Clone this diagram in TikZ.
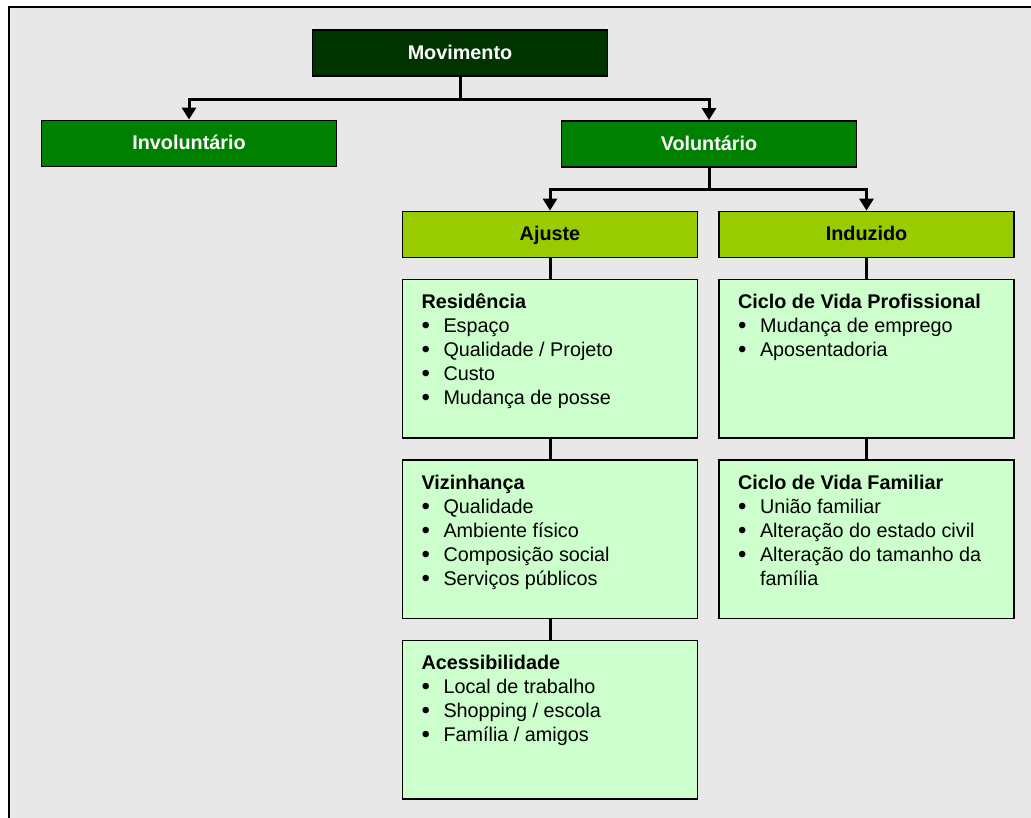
\documentclass[tikz,border=0pt]{standalone}
\usepackage{fontspec}
\setmainfont{Liberation Sans}
\usetikzlibrary{positioning}
\usetikzlibrary{arrows.meta}

\definecolor{darkgreen}{HTML}{003300}
\definecolor{midgreen}{HTML}{008000}
\definecolor{limegreen}{HTML}{99CC00}
\definecolor{palegreen}{HTML}{CCFFCC}
\definecolor{framegray}{HTML}{E8E8E8}

% one bullet line of a list box
\newcommand{\bitem}[1]{\\\makebox[22pt][l]{\smash{\raisebox{-1pt}{\fontsize{24}{24}\selectfont\textbullet}}}#1}
% heading and bullets, aligned at the top of the box
\newcommand{\boxlist}[2]{\parbox[c][158.5pt][t]{257pt}{\rule{0pt}{29pt}\textbf{#1}#2}}

\begin{document}
\begin{tikzpicture}[x=1pt,y=-1pt,node distance=20.2pt,
	font=\fontsize{19.8}{24}\selectfont,
	head node/.style={draw,line width=1.8pt,minimum width=295pt,minimum height=46pt,
		text height=17pt,text depth=4pt,font=\fontsize{19.8}{24}\selectfont\bfseries},
	list node/.style={draw,line width=1.8pt,fill=palegreen,inner xsep=19pt,inner ysep=0pt},
	arr/.style={line width=3pt,-{Triangle[width=14pt,length=12pt]}}]

	\useasboundingbox (0,0) rectangle (1031,818);
	\fill[white] (0,0) rectangle (1031,818);
	\fill[framegray] (9,7) rectangle (1031,818);
	\draw[line width=2pt] (9,818) -- (9,7) -- (1031,7);

	\node[head node,fill=darkgreen,text=white] (mov) at (460,53) {Movimento};
	\node[head node,fill=midgreen,text=white] (inv) at (189,143.5) {Involuntário};
	\node[head node,fill=midgreen,text=white] (vol) at (709,144) {Voluntário};
	\node[head node,fill=limegreen] (aju) at (550,234.5) {Ajuste};
	\node[head node,fill=limegreen] (ind) at (866.5,234.5) {Induzido};

	\node[list node] (res) [below=of aju] {\boxlist{Residência}{%
		\bitem{Espaço}\bitem{Qualidade / Projeto}\bitem{Custo}\bitem{Mudança de posse}}};
	\node[list node] (viz) [below=of res] {\boxlist{Vizinhança}{%
		\bitem{Qualidade}\bitem{Ambiente físico}\bitem{Composição social}\bitem{Serviços públicos}}};
	\node[list node] (acc) [below=of viz] {\boxlist{Acessibilidade}{%
		\bitem{Local de trabalho}\bitem{Shopping / escola}\bitem{Família / amigos}}};
	\node[list node] (pro) [below=of ind] {\boxlist{Ciclo de Vida Profissional}{%
		\bitem{Mudança de emprego}\bitem{Aposentadoria}}};
	\node[list node] (fam) [below=of pro] {\boxlist{Ciclo de Vida Familiar}{%
		\bitem{União familiar}\bitem{Alteração do estado civil}%
		\bitem{Alteração do tamanho da}\\\hspace*{22pt}família}};

	\draw[arr] (mov.south) -- ++(0,23) -| (inv.north);
	\draw[arr] (mov.south) -- ++(0,23) -| (vol.north);
	\draw[arr] (vol.south) -- ++(0,22) -| (aju.north);
	\draw[arr] (vol.south) -- ++(0,22) -| (ind.north);

	\path[line width=3pt]
	(aju) edge (res)
	(res) edge (viz)
	(viz) edge (acc)
	(ind) edge (pro)
	(pro) edge (fam);
\end{tikzpicture}
\end{document}
